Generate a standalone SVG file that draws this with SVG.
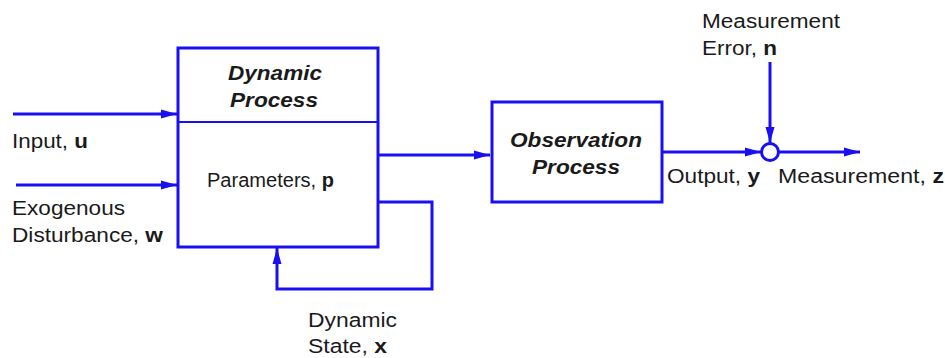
<svg xmlns="http://www.w3.org/2000/svg" width="945" height="358" viewBox="0 0 945 358">
<defs>
<marker id="ah" viewBox="0 0 16 10" refX="16" refY="5" markerWidth="16" markerHeight="10" markerUnits="userSpaceOnUse" orient="auto">
<path d="M0,0.5 L16,5 L0,9.5 Z" fill="#1a0ff0"/>
</marker>
<style>
.box{fill:none;stroke:#1a0ff0;stroke-width:3}
.ln{fill:none;stroke:#1a0ff0;stroke-width:3}
.t{font-family:"Liberation Sans",Arial,sans-serif;font-size:20px;fill:#1a1a1a}
.bi{font-weight:bold;font-style:italic}
.b{font-weight:bold}
</style>
</defs>
<rect width="945" height="358" fill="#ffffff"/>
<g id="connectors">
<line class="ln" x1="13" y1="114" x2="177" y2="114" marker-end="url(#ah)"/>
<line class="ln" x1="16" y1="185" x2="177" y2="185" marker-end="url(#ah)"/>
<line class="ln" x1="378" y1="155" x2="490" y2="155" marker-end="url(#ah)"/>
<polyline class="ln" points="378,202 432,202 432,289 277,289 277,248" marker-end="url(#ah)"/>
<line class="ln" x1="662" y1="152" x2="761" y2="152" marker-end="url(#ah)"/>
<line class="ln" x1="770" y1="62" x2="770" y2="143" marker-end="url(#ah)"/>
<line class="ln" x1="779" y1="152" x2="860" y2="152" marker-end="url(#ah)"/>
</g>
<g id="dynamic-process">
<rect class="box" x="178" y="48" width="200" height="199"/>
<line x1="178" y1="122" x2="378" y2="122" stroke="#1a0ff0" stroke-width="2"/>
<text class="t bi" x="228" y="80" textLength="94" lengthAdjust="spacingAndGlyphs">Dynamic</text>
<text class="t bi" x="230" y="107" textLength="88" lengthAdjust="spacingAndGlyphs">Process</text>
<text class="t" x="207" y="187" textLength="127" lengthAdjust="spacingAndGlyphs">Parameters, <tspan class="b">p</tspan></text>
</g>
<g id="observation-process">
<rect class="box" x="492" y="102" width="170" height="100"/>
<text class="t bi" x="510" y="147" textLength="132" lengthAdjust="spacingAndGlyphs">Observation</text>
<text class="t bi" x="532" y="174" textLength="88" lengthAdjust="spacingAndGlyphs">Process</text>
</g>
<g id="sum-junction">
<circle cx="770" cy="152" r="8.5" fill="#ffffff" stroke="#1a0ff0" stroke-width="3"/>
</g>
<g id="labels">
<text class="t" x="12" y="148" textLength="76" lengthAdjust="spacingAndGlyphs">Input, <tspan class="b">u</tspan></text>
<text class="t" x="12" y="215" textLength="113" lengthAdjust="spacingAndGlyphs">Exogenous</text>
<text class="t" x="12" y="242" textLength="151" lengthAdjust="spacingAndGlyphs">Disturbance, <tspan class="b">w</tspan></text>
<text class="t" x="308" y="327" textLength="89" lengthAdjust="spacingAndGlyphs">Dynamic</text>
<text class="t" x="308" y="353" textLength="79" lengthAdjust="spacingAndGlyphs">State, <tspan class="b">x</tspan></text>
<text class="t" x="702" y="28" textLength="138" lengthAdjust="spacingAndGlyphs">Measurement</text>
<text class="t" x="702" y="55" textLength="75" lengthAdjust="spacingAndGlyphs">Error, <tspan class="b">n</tspan></text>
<text class="t" x="667" y="183" textLength="93" lengthAdjust="spacingAndGlyphs">Output, <tspan class="b">y</tspan></text>
<text class="t" x="778" y="183" textLength="166" lengthAdjust="spacingAndGlyphs">Measurement, <tspan class="b">z</tspan></text>
</g>
</svg>
